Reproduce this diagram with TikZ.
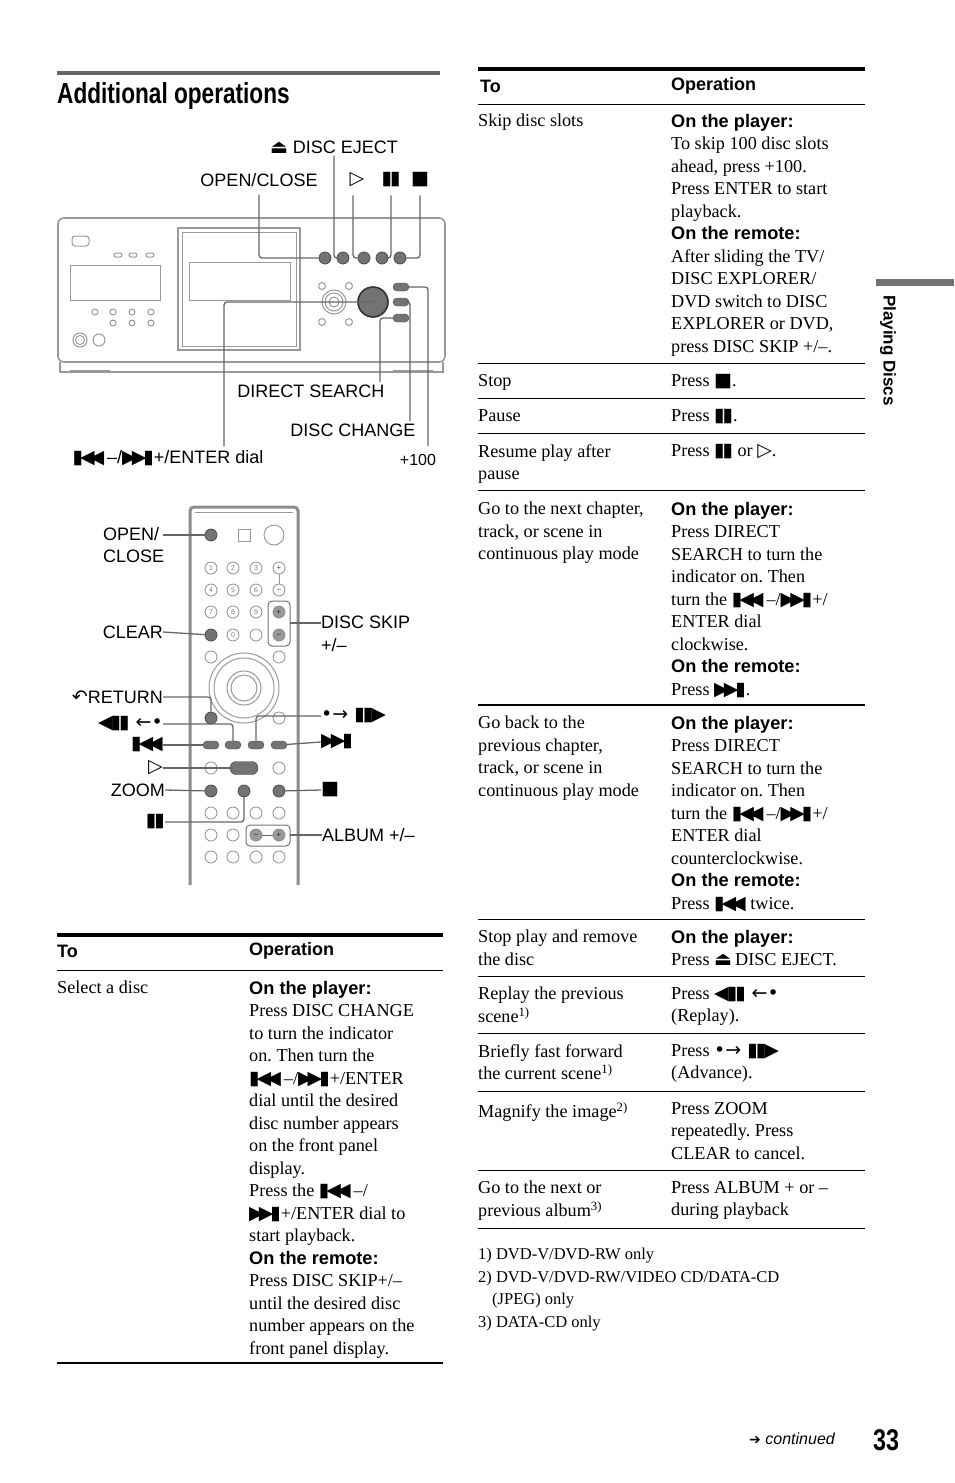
\documentclass[tikz,border=0pt]{standalone}
\usepackage{fontspec}
\setmainfont{Liberation Serif}
\setsansfont{Liberation Sans}
\newfontfamily\symfont{DejaVu Sans}
\newfontfamily\titlefont[FakeStretch=0.78]{Liberation Sans Bold}
\usetikzlibrary{positioning}
\frenchspacing
\newcommand{\sym}[1]{{\symfont\fontsize{19}{19}\selectfont #1}}
\newcommand{\prevsym}{\sym{▮\kern-3pt◀\kern-5pt◀}}
\newcommand{\nextsym}{\sym{▶\kern-5pt▶\kern-3pt▮}}
\newcommand{\pausesym}{\sym{▮\kern-2pt▮}}
\newcommand{\stopsym}{\sym{■}}
\newcommand{\playsym}{\sym{▷}}
\newcommand{\ejectsym}{\sym{⏏}}
\newcommand{\replaysym}{\sym{◀\kern-2pt▮\kern-2pt▮ ←•}}
\newcommand{\advsym}{\sym{•→ ▮\kern-2pt▮\kern-2pt▶}}
\newcommand{\sfb}[1]{{\sffamily\bfseries #1}}

\begin{document}
\begin{tikzpicture}[x=1pt,y=-1pt]
\tikzstyle{cell} = [anchor=north west, inner sep=0, align=left, font=\fontsize{18.2}{22.5}\selectfont]
\tikzstyle{head} = [anchor=west, inner sep=0, font=\fontsize{18}{22}\selectfont\sffamily\bfseries]
\tikzstyle{lbl} = [inner sep=0, font=\fontsize{18}{22}\selectfont\sffamily]
\tikzstyle{callout} = [draw=black!60, line width=1.3pt, rounded corners=3pt]
\tikzstyle{dev} = [draw=black!40, line width=1pt]
\tikzstyle{btn} = [circle, draw=black!45, line width=0.8pt, minimum size=12pt, inner sep=0]
\tikzstyle{darkbtn} = [btn, fill=black!55, draw=black!70]
\tikzstyle{oval} = [rectangle, rounded corners=4pt, draw=black!70, fill=black!55, minimum width=16pt, minimum height=8pt, inner sep=0]
\useasboundingbox (0,0) rectangle (954,1483);

% heading
\draw[black!60, line width=4pt] (57,73) -- (440,73);
\node[anchor=base west, inner sep=0, font=\fontsize{29}{30}\selectfont\titlefont] (title) at (57,103) {Additional operations};

% side tab and page footer
\fill[black!55] (876,279) rectangle (954,286);
\node[rotate=-90, anchor=west, inner sep=0, font=\fontsize{17}{17}\selectfont\sffamily\bfseries] (tab) at (888,295) {Playing Discs};
\node[anchor=base east, inner sep=0, font=\fontsize{16}{16}\selectfont\sffamily\itshape] (cont) at (835,1444) {{\symfont\fontsize{14}{14}\selectfont ➔} continued};
\node[anchor=base west, inner sep=0, font=\fontsize{30}{30}\selectfont\titlefont] (page) at (873,1450) {33};

% player front panel
\draw[dev, rounded corners=6pt, line width=1.6pt] (58,218) rectangle (445,362);
\draw[dev, line width=1.6pt] (60,362) -- (60,372) -- (443,372) -- (443,362);
\draw[dev] (70,370) -- (110,370) (393,370) -- (433,370);
\draw[dev, line width=1.2pt] (178,228) rectangle (300,350);
\draw[dev] (182,232) rectangle (296,346);
\draw[dev] (189,262) rectangle (290,300);
\draw[dev] (70,265) rectangle (160,300);
\draw[dev, rounded corners=3pt] (72,236) rectangle (89,246);
\foreach \x in {118,133,150} \draw[dev, rounded corners=2pt] (\x-4,253) rectangle (\x+4,257);
\foreach \x in {113,132,151} {\draw[dev] (\x,312) circle (3); \draw[dev] (\x,323) circle (3);}
\draw[dev] (95,312) circle (3);
\draw[dev] (80,340) circle (7); \draw[dev] (80,340) circle (4.5); \draw[dev] (99,340) circle (6);
\foreach \p in {(322,286),(349,286),(322,322),(349,322)} \draw[dev] \p circle (3.5);
\draw[dev] (334,302) circle (12); \draw[dev] (334,302) circle (9); \draw[dev] (334,302) circle (5);
\node[darkbtn, minimum size=12pt] (bOpen) at (325,258) {};
\node[darkbtn, minimum size=12pt] (bEject) at (343,258) {};
\node[darkbtn, minimum size=12pt] (bPlay) at (364,258) {};
\node[darkbtn, minimum size=12pt] (bPause) at (382,258) {};
\node[darkbtn, minimum size=12pt] (bStop) at (400,258) {};
\node[darkbtn, minimum size=30pt, line width=1.6pt, draw=black!80] (bDial) at (373,302) {};
\node[oval] (bHund) at (401,287) {};
\node[oval] (bChange) at (401,302) {};
\node[oval] (bDirect) at (401,318) {};

% player labels
\node[lbl] (lEject) at (334,147) {\ejectsym\ DISC EJECT};
\node[lbl] (lOpen) at (259,180) {OPEN/CLOSE};
\node[lbl] (lPlay) at (357,180) {\playsym};
\node[lbl] (lPause) at (391,180) {\pausesym};
\node[lbl] (lStop) at (420,180) {\stopsym};
\node[lbl] (lDirect) at (311,391) {DIRECT SEARCH};
\node[lbl] (lChange) at (353,430) {DISC CHANGE};
\node[lbl] (lDial) at (168,458) {\prevsym\,–/\nextsym+/ENTER dial};
\node[lbl, font=\fontsize{16}{16}\selectfont\sffamily] (lHund) at (418,460) {+100};
\coordinate (cDirect) at (380,382);
\coordinate (cChange) at (410,421);
\coordinate (cHund) at (428,446);
\coordinate (cDial) at (224,446);
\draw[callout] ([yshift=-2pt]lEject.south) |- (bEject.west);
\draw[callout] ([yshift=-8pt]lOpen.south) |- (bOpen.west);
\draw[callout] ([xshift=-4pt,yshift=-8pt]lPlay.south) |- (bPlay.west);
\draw[callout] ([yshift=-8pt]lPause.south) |- (bPause.east);
\draw[callout] ([yshift=-8pt]lStop.south) |- (bStop.east);
\draw[callout] (cDirect) |- (bDirect.west);
\draw[callout] (cChange) |- (bChange.east);
\draw[callout] (cHund) |- (bHund.east);
\draw[callout] (cDial) |- (bDial.center);

% remote
\draw[black!45, line width=3pt, rounded corners=4pt] (190,885) -- (190,507) -- (298,507) -- (298,885);
\draw[dev] (195,512) -- (293,512);
\node[darkbtn] (kOpen) at (211,535) {};
\draw[dev] (238,529) rectangle (250,541);
\node[btn, minimum size=20pt] (kPower) at (274,535) {};
\foreach \n/\x/\y in {1/211/568,2/233/568,3/256/568,4/211/590,5/233/590,6/256/590,7/211/612,8/233/612,9/256/612,0/233/635}
  \node[btn, font=\fontsize{7}{7}\selectfont\sffamily, text=black!50] (k\n) at (\x,\y) {\n};
\node[btn, font=\fontsize{8}{8}\selectfont] (kVolP) at (279,568) {+};
\node[btn, font=\fontsize{8}{8}\selectfont] (kVolM) at (279,590) {–};
\draw[dev] (kVolP) -- (kVolM);
\node[darkbtn] (kClear) at (211,635) {};
\node[btn] (kBlank) at (256,635) {};
\draw[black!55, line width=1pt, rounded corners=4pt] (268,601) rectangle (290,646);
\node[btn, fill=black!40, font=\fontsize{8}{8}\selectfont] (kSkipP) at (279,612) {+};
\node[btn, fill=black!40, font=\fontsize{8}{8}\selectfont] (kSkipM) at (279,635) {–};
\node[btn] (kTopL) at (211,657) {};
\node[btn] (kTopR) at (279,657) {};
\draw[dev] (244,688) circle (35); \draw[dev] (244,688) circle (30);
\draw[dev] (244,688) circle (17); \draw[dev] (244,688) circle (13);
\node[darkbtn] (kReturn) at (211,718) {};
\node[btn] (kMenu) at (279,718) {};
\node[oval] (kPrev) at (211,745) {};
\node[oval] (kReplay) at (233,745) {};
\node[oval] (kAdv) at (256,745) {};
\node[oval] (kNext) at (279,745) {};
\node[btn] (kSlowL) at (211,768) {};
\node[oval, minimum width=28pt, minimum height=13pt, rounded corners=6pt] (kPlay) at (244,768) {};
\node[btn] (kSlowR) at (279,768) {};
\node[darkbtn] (kZoom) at (211,791) {};
\node[darkbtn] (kPause) at (244,791) {};
\node[darkbtn] (kStop) at (279,791) {};
\foreach \y in {813,835,857} {\node[btn] at (211,\y) {}; \node[btn] at (233,\y) {};}
\foreach \y in {813,857} {\node[btn] at (256,\y) {}; \node[btn] at (279,\y) {};}
\draw[black!55, line width=1pt, rounded corners=4pt] (246,825) rectangle (290,846);
\node[btn, fill=black!40, font=\fontsize{8}{8}\selectfont] (kAlbM) at (256,835) {–};
\node[btn, fill=black!40, font=\fontsize{8}{8}\selectfont] (kAlbP) at (279,835) {+};
\draw[black!60] (kAlbM) -- (kAlbP);

% remote labels
\node[lbl, anchor=north west, align=left, font=\fontsize{18}{22.5}\selectfont\sffamily] (rOpen) at (103,527) {OPEN/\\CLOSE};
\node[lbl, anchor=east] (rClear) at (163,632) {CLEAR};
\node[lbl, anchor=east] (rReturn) at (163,697) {\sym{↶}RETURN};
\node[lbl, anchor=east] (rReplay) at (163,724) {\replaysym};
\node[lbl, anchor=east] (rPrev) at (163,745) {\prevsym};
\node[lbl, anchor=east] (rPlay) at (163,768) {\playsym};
\node[lbl, anchor=east] (rZoom) at (165,790) {ZOOM};
\node[lbl, anchor=east] (rPause) at (165,822) {\pausesym};
\node[lbl, anchor=north west, align=left, font=\fontsize{18}{22.5}\selectfont\sffamily] (rSkip) at (321,616) {DISC SKIP\\+/–};
\node[lbl, anchor=west] (rAdv) at (321,716) {\advsym};
\node[lbl, anchor=west] (rNext) at (321,742) {\nextsym};
\node[lbl, anchor=west] (rStop) at (321,790) {\stopsym};
\node[lbl, anchor=west] (rAlbum) at (322,835) {ALBUM +/–};
\coordinate (cOpen) at (163,535);
\draw[callout] (cOpen) -- (kOpen);
\draw[callout] (rClear.east) -- (kClear);
\draw[callout] (rReturn.east) -| (kReturn.north);
\draw[callout] (rReplay.east) -| (kReplay.north);
\draw[callout] (rPrev.east) -- (kPrev);
\draw[callout] (rPlay.east) -- (kPlay);
\draw[callout] (rZoom.east) -- (kZoom);
\draw[callout] (rPause.east) -| (kPause.south);
\draw[callout] (rSkip.west |- 0,623) -- (290,623);
\draw[callout] (rAdv.west) -| (kAdv.north);
\draw[callout] (rNext.west) -- (kNext);
\draw[callout] (rStop.west) -- (kStop);
\draw[callout] (rAlbum.west) -- (290,835);

% left table
\draw[line width=3.5pt] (57,935) -- (443,935);
\node[head] (lTo) at (57,951) {To};
\node[head] (lOp) at (249,951) {Operation};
\draw[line width=0.8pt] (57,970) -- (443,970);
\node[cell] (lSel) at (57,981) {Select a disc};
\node[cell] (lSelOp) at (249,981) {\sfb{On the player:}\\Press DISC CHANGE\\to turn the indicator\\on. Then turn the\\\prevsym\,–/\nextsym+/ENTER\\dial until the desired\\disc number appears\\on the front panel\\display.\\Press the \prevsym\,–/\\\nextsym+/ENTER dial to\\start playback.\\\sfb{On the remote:}\\Press DISC SKIP+/–\\until the desired disc\\number appears on the\\front panel display.};
\draw[line width=1.6pt] (57,1363) -- (443,1363);

% right table
\draw[line width=3.5pt] (478,69) -- (865,69);
\node[head] (rTo) at (480,86) {To};
\node[head] (rOp) at (671,86) {Operation};
\draw[line width=0.8pt] (478,104) -- (865,104);
\foreach \y in {363,398,433,490,919,976,1033,1091,1170,1228}
  \draw[line width=0.8pt] (478,\y) -- (865,\y);
\draw[line width=1.6pt] (478,705) -- (865,705);
\node[cell] (tSkip) at (478,114) {Skip disc slots};
\node[cell] (oSkip) at (671,114) {\sfb{On the player:}\\To skip 100 disc slots\\ahead, press +100.\\Press ENTER to start\\playback.\\\sfb{On the remote:}\\After sliding the TV/\\DISC EXPLORER/\\DVD switch to DISC\\EXPLORER or DVD,\\press DISC SKIP +/–.};
\node[cell] (tStop) at (478,374) {Stop};
\node[cell] (oStop) at (671,374) {Press \stopsym.};
\node[cell] (tPause) at (478,409) {Pause};
\node[cell] (oPause) at (671,409) {Press \pausesym.};
\node[cell] (tResume) at (478,444) {Resume play after\\pause};
\node[cell] (oResume) at (671,444) {Press \pausesym{} or \playsym.};
\node[cell] (tNextCh) at (478,502) {Go to the next chapter,\\track, or scene in\\continuous play mode};
\node[cell] (oNextCh) at (671,502) {\sfb{On the player:}\\Press DIRECT\\SEARCH to turn the\\indicator on. Then\\turn the \prevsym\,–/\nextsym+/\\ENTER dial\\clockwise.\\\sfb{On the remote:}\\Press \nextsym.};
\node[cell] (tPrevCh) at (478,716) {Go back to the\\previous chapter,\\track, or scene in\\continuous play mode};
\node[cell] (oPrevCh) at (671,716) {\sfb{On the player:}\\Press DIRECT\\SEARCH to turn the\\indicator on. Then\\turn the \prevsym\,–/\nextsym+/\\ENTER dial\\counterclockwise.\\\sfb{On the remote:}\\Press \prevsym\ twice.};
\node[cell] (tEject) at (478,930) {Stop play and remove\\the disc};
\node[cell] (oEject) at (671,930) {\sfb{On the player:}\\Press \ejectsym\,DISC EJECT.};
\node[cell] (tReplay) at (478,987) {Replay the previous\\scene\textsuperscript{1)}};
\node[cell] (oReplay) at (671,987) {Press \replaysym\\(Replay).};
\node[cell] (tAdv) at (478,1044) {Briefly fast forward\\the current scene\textsuperscript{1)}};
\node[cell] (oAdv) at (671,1044) {Press \advsym\\(Advance).};
\node[cell] (tZoom) at (478,1102) {Magnify the image\textsuperscript{2)}};
\node[cell] (oZoom) at (671,1102) {Press ZOOM\\repeatedly. Press\\CLEAR to cancel.};
\node[cell] (tAlbum) at (478,1181) {Go to the next or\\previous album\textsuperscript{3)}};
\node[cell] (oAlbum) at (671,1181) {Press ALBUM + or –\\during playback};
\node[cell, font=\fontsize{16.5}{22.6}\selectfont] (notes) at (478,1248) {1) DVD-V/DVD-RW only\\2) DVD-V/DVD-RW/VIDEO CD/DATA-CD\\\hspace*{14pt}(JPEG) only\\3) DATA-CD only};
\end{tikzpicture}
\end{document}
